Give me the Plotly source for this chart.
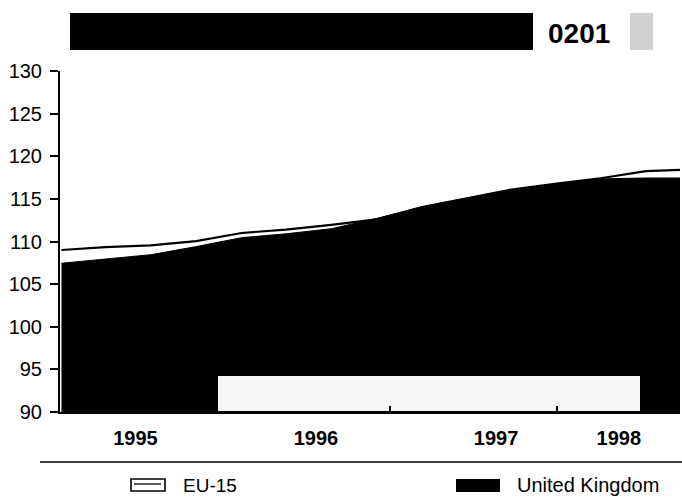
import plotly.graph_objects as go

# ---- data (index values) ----
periods = ["1995-02-01", "1995-05-01", "1995-08-01", "1995-11-01",
           "1996-02-01", "1996-05-01", "1996-08-01", "1996-11-01",
           "1997-02-01", "1997-05-01", "1997-08-01", "1997-11-01",
           "1998-02-01", "1998-05-01", "1998-07-09"]
eu15 = [109.0, 109.35, 109.55, 110.05, 111.0, 111.4, 111.95, 112.6,
        114.05, 115.1, 116.1, 116.8, 117.45, 118.25, 118.4]
uk = [107.45, 107.9, 108.45, 109.4, 110.45, 110.9, 111.5, 112.7,
      114.05, 115.05, 116.05, 116.75, 117.35, 117.45, 117.45]
year_labels = ["1995", "1996", "1997", "1998"]
year_label_pos = ["1995-07-01", "1996-07-01", "1997-07-01", "1998-03-07"]
y_ticks = [90, 95, 100, 105, 110, 115, 120, 125, 130]
series_names = ["EU-15", "United Kingdom"]
chart_code = "0201"

FONT = "Liberation Sans, Arial, Helvetica, sans-serif"
W, H = 682, 498
L, R, T, B = 60, 2, 71, 86
PW, PH = W - L - R, H - T - B


def px(x):
    return (x - L) / PW


def py(y):
    return (H - B - y) / PH


fig = go.Figure()
fig.add_trace(go.Scatter(x=periods, y=eu15, name=series_names[0], mode="lines",
                         fill="tozeroy", fillcolor="white",
                         line=dict(color="black", width=2.2), showlegend=False))
fig.add_trace(go.Scatter(x=periods, y=uk, name=series_names[1], mode="lines",
                         fill="tozeroy", fillcolor="black",
                         line=dict(color="black", width=1), showlegend=False))

shapes = []
annotations = []
# top banner
shapes.append(dict(type="rect", xref="paper", yref="paper",
                   x0=px(70), x1=px(533), y0=py(50), y1=py(13),
                   fillcolor="black", line=dict(width=0), layer="above"))
shapes.append(dict(type="rect", xref="paper", yref="paper",
                   x0=px(630), x1=px(653), y0=py(50), y1=py(13),
                   fillcolor="#d0d0d0", line=dict(width=0), layer="above"))
annotations.append(dict(text="<b>" + chart_code + "</b>", xref="paper", yref="paper",
                        x=px(579), y=py(33), showarrow=False,
                        font=dict(family=FONT, size=28, color="black"),
                        xanchor="center", yanchor="middle"))
# light scan patch at the bottom of the plot
shapes.append(dict(type="rect", xref="paper", yref="paper",
                   x0=px(218), x1=px(640), y0=py(411), y1=py(376),
                   fillcolor="#f6f6f6", line=dict(width=0), layer="above"))
# small tick marks visible in the light patch
for tx in (390, 557):
    shapes.append(dict(type="line", xref="paper", yref="paper",
                       x0=px(tx), x1=px(tx), y0=py(412), y1=py(406),
                       line=dict(color="black", width=2), layer="above"))
# separator line
shapes.append(dict(type="line", xref="paper", yref="paper",
                   x0=px(40), x1=px(682), y0=py(462), y1=py(462),
                   line=dict(color="black", width=1.3)))
# legend swatches
shapes.append(dict(type="rect", xref="paper", yref="paper",
                   x0=px(131), x1=px(165), y0=py(491), y1=py(479),
                   fillcolor="white", line=dict(color="black", width=1.6)))
shapes.append(dict(type="line", xref="paper", yref="paper",
                   x0=px(134), x1=px(161), y0=py(484), y1=py(484),
                   line=dict(color="black", width=1.3)))
shapes.append(dict(type="rect", xref="paper", yref="paper",
                   x0=px(456), x1=px(500), y0=py(492), y1=py(479),
                   fillcolor="black", line=dict(width=0)))
annotations.append(dict(text=series_names[0], xref="paper", yref="paper",
                        x=px(181), y=py(485), showarrow=False,
                        font=dict(family=FONT, size=19, color="black"),
                        xanchor="left", yanchor="middle"))
annotations.append(dict(text=series_names[1], xref="paper", yref="paper",
                        x=px(515), y=py(485), showarrow=False,
                        font=dict(family=FONT, size=20, color="black"),
                        xanchor="left", yanchor="middle"))

fig.update_layout(
    width=W, height=H,
    margin=dict(l=L, r=R, t=T, b=B),
    paper_bgcolor="white", plot_bgcolor="white",
    showlegend=False,
    shapes=shapes, annotations=annotations,
    xaxis=dict(type="date", range=["1995-01-29", "1998-07-09"],
               tickvals=year_label_pos, ticktext=["<b>%s</b>" % s for s in year_labels],
               ticks="", showgrid=False, zeroline=False,
               showline=True, linecolor="black", linewidth=2,
               tickfont=dict(family=FONT, size=20, color="black"),
               ticklabelstandoff=7),
    yaxis=dict(range=[90, 130], tickvals=y_ticks, ticks="outside", ticklen=8,
               tickwidth=2, tickcolor="black", showgrid=False, zeroline=False,
               showline=True, linecolor="black", linewidth=2,
               tickfont=dict(family=FONT, size=20, color="black"),
               ticklabelstandoff=4),
)

fig.write_html("out.html", config={"displayModeBar": False},
               post_script="document.body.style.margin='0';document.body.style.overflow='hidden';")
